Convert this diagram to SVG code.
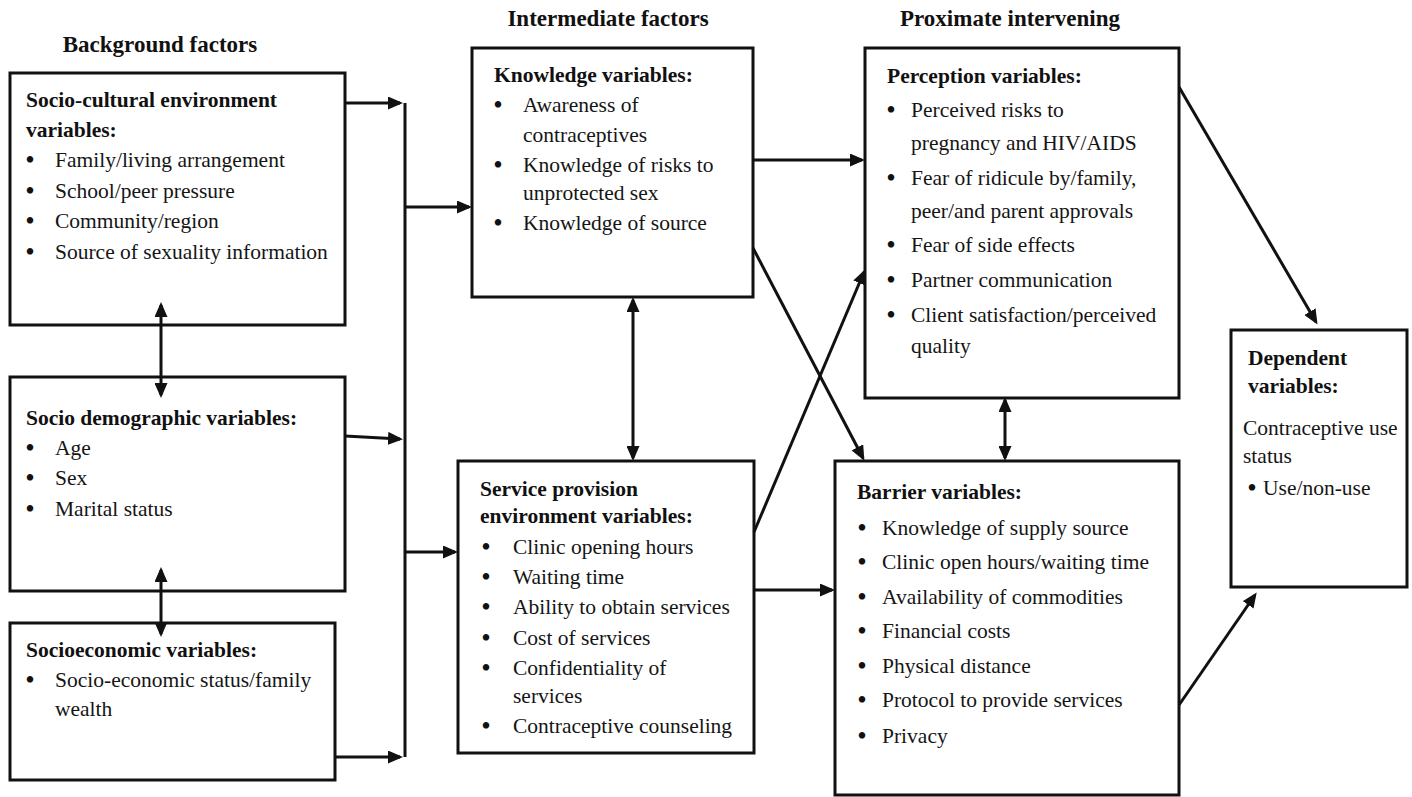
<svg xmlns="http://www.w3.org/2000/svg" width="1412" height="797" viewBox="0 0 1412 797" font-family="'Liberation Serif', 'Times New Roman', serif">
<style>
  text { font-family: 'Liberation Serif', 'Times New Roman', Times, serif; }
  .box { fill: #fff; stroke: #111; stroke-width: 3; }
  .t { font-size: 21.5px; fill: #151515; }
  .b { font-size: 21.5px; font-weight: bold; fill: #111; }
  .h { font-size: 23px; font-weight: bold; fill: #111; text-anchor: middle; }
  .bu { font-size: 27px; fill: #111; text-anchor: middle; }
  .c { fill: none; stroke: #111; stroke-width: 3; }
  .a { marker-end: url(#ah); }
  .d { marker-start: url(#ah); marker-end: url(#ah); }
</style>
<defs>
  <marker id="ah" viewBox="0 0 15 13" refX="12" refY="6.5" markerWidth="15" markerHeight="13" markerUnits="userSpaceOnUse" orient="auto-start-reverse">
    <path d="M0,0 L15,6.5 L0,13 z" fill="#111"/>
  </marker>
</defs>
<rect width="1412" height="797" fill="#fff"/>

<g id="headers">
  <text class="h" x="160" y="52">Background factors</text>
  <text class="h" x="608" y="26">Intermediate factors</text>
  <text class="h" x="1010" y="26">Proximate intervening</text>
</g>

<g id="n-sociocultural">
  <rect class="box" x="10" y="73" width="335" height="252"/>
  <text class="b" x="26" y="107">Socio-cultural environment</text>
  <text class="b" x="26" y="137">variables:</text>
  <text class="bu" x="30" y="169">•</text><text class="t" x="55" y="167">Family/living arrangement</text>
  <text class="bu" x="30" y="200">•</text><text class="t" x="55" y="198">School/peer pressure</text>
  <text class="bu" x="30" y="230">•</text><text class="t" x="55" y="228">Community/region</text>
  <text class="bu" x="30" y="261">•</text><text class="t" x="55" y="259">Source of sexuality information</text>
</g>

<g id="n-sociodemographic">
  <rect class="box" x="10" y="377" width="335" height="214"/>
  <text class="b" x="26" y="425">Socio demographic variables:</text>
  <text class="bu" x="30" y="457">•</text><text class="t" x="55" y="455">Age</text>
  <text class="bu" x="30" y="487">•</text><text class="t" x="55" y="485">Sex</text>
  <text class="bu" x="30" y="518">•</text><text class="t" x="55" y="516">Marital status</text>
</g>

<g id="n-socioeconomic">
  <rect class="box" x="10" y="623" width="325" height="157"/>
  <text class="b" x="26" y="657">Socioeconomic variables:</text>
  <text class="bu" x="30" y="689">•</text><text class="t" x="55" y="687">Socio-economic status/family</text>
  <text class="t" x="55" y="716">wealth</text>
</g>

<g id="n-knowledge">
  <rect class="box" x="472" y="48" width="281" height="249"/>
  <text class="b" x="494" y="82">Knowledge variables:</text>
  <text class="bu" x="498" y="114">•</text><text class="t" x="523" y="112">Awareness of</text>
  <text class="t" x="523" y="142">contraceptives</text>
  <text class="bu" x="498" y="174">•</text><text class="t" x="523" y="172">Knowledge of risks to</text>
  <text class="t" x="523" y="200">unprotected sex</text>
  <text class="bu" x="498" y="232">•</text><text class="t" x="523" y="230">Knowledge of source</text>
</g>

<g id="n-service">
  <rect class="box" x="458" y="461" width="296" height="292"/>
  <text class="b" x="480" y="496">Service provision</text>
  <text class="b" x="480" y="523">environment variables:</text>
  <text class="bu" x="486" y="556">•</text><text class="t" x="513" y="554">Clinic opening hours</text>
  <text class="bu" x="486" y="586">•</text><text class="t" x="513" y="584">Waiting time</text>
  <text class="bu" x="486" y="616">•</text><text class="t" x="513" y="614">Ability to obtain services</text>
  <text class="bu" x="486" y="647">•</text><text class="t" x="513" y="645">Cost of services</text>
  <text class="bu" x="486" y="677">•</text><text class="t" x="513" y="675">Confidentiality of</text>
  <text class="t" x="513" y="703">services</text>
  <text class="bu" x="486" y="735">•</text><text class="t" x="513" y="733">Contraceptive counseling</text>
</g>

<g id="n-perception">
  <rect class="box" x="865" y="48" width="314" height="350"/>
  <text class="b" x="887" y="83">Perception variables:</text>
  <text class="bu" x="891" y="119">•</text><text class="t" x="911" y="117">Perceived risks to</text>
  <text class="t" x="911" y="150">pregnancy and HIV/AIDS</text>
  <text class="bu" x="891" y="187">•</text><text class="t" x="911" y="185">Fear of ridicule by/family,</text>
  <text class="t" x="911" y="218">peer/and parent approvals</text>
  <text class="bu" x="891" y="254">•</text><text class="t" x="911" y="252">Fear of side effects</text>
  <text class="bu" x="891" y="289">•</text><text class="t" x="911" y="287">Partner communication</text>
  <text class="bu" x="891" y="324">•</text><text class="t" x="911" y="322">Client satisfaction/perceived</text>
  <text class="t" x="911" y="353">quality</text>
</g>

<g id="n-barrier">
  <rect class="box" x="835" y="461" width="344" height="334"/>
  <text class="b" x="857" y="499">Barrier variables:</text>
  <text class="bu" x="862" y="537">•</text><text class="t" x="882" y="535">Knowledge of supply source</text>
  <text class="bu" x="862" y="571">•</text><text class="t" x="882" y="569">Clinic open hours/waiting time</text>
  <text class="bu" x="862" y="606">•</text><text class="t" x="882" y="604">Availability of commodities</text>
  <text class="bu" x="862" y="640">•</text><text class="t" x="882" y="638">Financial costs</text>
  <text class="bu" x="862" y="675">•</text><text class="t" x="882" y="673">Physical distance</text>
  <text class="bu" x="862" y="709">•</text><text class="t" x="882" y="707">Protocol to provide services</text>
  <text class="bu" x="862" y="745">•</text><text class="t" x="882" y="743">Privacy</text>
</g>

<g id="n-dependent">
  <rect class="box" x="1231" y="330" width="176" height="257"/>
  <text class="b" x="1248" y="365">Dependent</text>
  <text class="b" x="1248" y="393">variables:</text>
  <text class="t" x="1243" y="435">Contraceptive use</text>
  <text class="t" x="1243" y="463">status</text>
  <text class="bu" x="1252" y="497">•</text><text class="t" x="1263" y="495">Use/non-use</text>
</g>

<g id="connectors">
  <path class="c" d="M405,103 V757"/>
  <path class="c a" d="M345,103 H400"/>
  <path class="c a" d="M345,436 L400,439"/>
  <path class="c a" d="M335,757 H400"/>
  <path class="c a" d="M405,207 H469"/>
  <path class="c a" d="M405,552 H455"/>
  <path class="c d" d="M161,305 V395"/>
  <path class="c d" d="M161,570 V634"/>
  <path class="c d" d="M633,300 V458"/>
  <path class="c a" d="M753,160 H862"/>
  <path class="c a" d="M753,248 L863,458"/>
  <path class="c a" d="M754,532 L864,272"/>
  <path class="c a" d="M754,590 H832"/>
  <path class="c d" d="M1005,400 V458"/>
  <path class="c a" d="M1179,87 L1316,322"/>
  <path class="c a" d="M1179,705 L1255,595"/>
</g>
</svg>
